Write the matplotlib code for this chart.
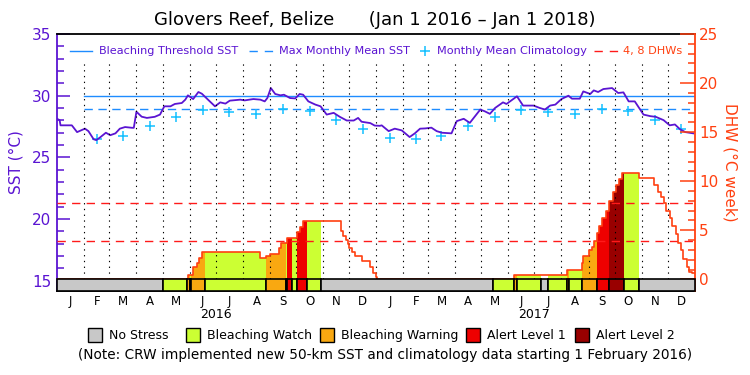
"""
Coral Reef Watch style SST / DHW chart for Glovers Reef, Belize (2016-2017).
"""

import datetime as dt

import numpy as np
import matplotlib
matplotlib.use("Agg")
import matplotlib.pyplot as plt
from matplotlib.lines import Line2D
from matplotlib.patches import Rectangle
import matplotlib.transforms as mtransforms

plt.rcParams["font.family"] = ["Liberation Sans Narrow", "DejaVu Sans"]

# ---- data (x values are days since Jan 1 2016) ----
sst_day = [0, 3, 4, 17, 23, 32, 36, 42, 45, 49, 56, 61, 67, 72, 78, 86, 88,
           91, 97, 103, 112, 118, 123, 130, 135, 143, 147, 150, 156, 162,
           166, 173, 181, 187, 193, 198, 210, 215, 225, 233, 238, 241, 245,
           250, 256, 260, 267, 273, 278, 282, 288, 296, 302, 309, 317, 324,
           332, 340, 345, 349, 359, 364, 370, 372, 380, 387, 395, 404, 410,
           416, 422, 429, 435, 441, 452, 458, 466, 473, 485, 490, 496, 502,
           511, 515, 527, 534, 546, 553, 559, 565, 571, 578, 586, 590, 599,
           603, 611, 615, 620, 626, 636, 643, 649, 655, 662, 672, 680, 686,
           695, 702, 708, 714, 720, 729]
sst = [28.13, 28.02, 27.6, 27.6, 27.05, 27.33, 27.13, 26.47, 26.4, 26.6,
       27.0, 26.8, 26.95, 27.33, 27.46, 27.4, 27.4, 28.7, 28.3, 28.2, 28.29,
       28.47, 29.14, 29.14, 29.33, 29.41, 29.68, 30.03, 29.73, 30.3, 30.16,
       29.68, 29.14, 29.46, 29.36, 29.6, 29.68, 29.62, 29.73, 29.68, 29.54,
       29.81, 30.62, 30.14, 30.03, 30.08, 29.81, 29.78, 30.14, 30.08, 29.54,
       29.28, 29.14, 28.47, 28.61, 28.29, 27.99, 27.99, 28.2, 27.89, 27.78,
       27.58, 27.56, 27.6, 27.13, 27.33, 27.19, 26.65, 26.95, 27.33, 27.35,
       27.41, 27.13, 27.0, 26.95, 27.94, 28.13, 27.8, 28.88, 28.74, 28.53,
       29.01, 29.46, 29.33, 29.95, 29.2, 29.2, 29.01, 28.88, 29.2, 29.28,
       29.73, 30.0, 29.76, 29.76, 30.35, 30.14, 30.43, 30.3, 30.54, 30.62,
       30.22, 30.27, 29.54, 29.54, 28.47, 28.34, 28.29, 28.02, 27.6, 27.67,
       27.27, 27.05, 26.95]

mmm = 28.95            # max monthly mean
threshold = 29.95      # bleaching threshold
clim = [26.55, 26.5, 26.7, 27.54, 28.27, 28.85, 28.69, 28.55, 28.93, 28.78,
        28.05, 27.31]  # monthly mean climatology, Jan..Dec

dhw_day = [0, 150, 156, 160, 163, 166, 233, 239, 244, 254, 257, 263, 275,
           278, 282, 325, 328, 331, 333, 334, 338, 341, 349, 359, 362, 366,
           367, 524, 584, 601, 603, 610, 613, 615, 619, 621, 625, 629, 633,
           637, 641, 644, 647, 667, 684, 689, 692, 695, 698, 702, 705, 709,
           712, 715, 717, 722, 724, 727, 731]
dhw = [0, 0.41, 1.22, 1.63, 2.2, 2.75, 2.14, 2.37, 2.58, 3.16, 3.66, 4.17,
       4.85, 5.36, 5.97, 4.9, 4.4, 4.0, 3.6, 3.2, 2.8, 2.4, 1.9, 1.3, 0.6,
       0.2, 0, 0.43, 0.95, 1.63, 2.37, 2.95, 3.3, 3.87, 4.68, 5.43, 6.2,
       6.98, 8.0, 8.86, 9.6, 10.18, 10.86, 10.28, 9.6, 8.86, 8.35, 7.74,
       6.98, 6.2, 5.43, 4.61, 3.73, 2.98, 2.04, 1.28, 0.77, 0.61, 0.61]

# stress level segments: start day, level (0 none .. 4 alert 2)
stress_start = [0, 122, 149, 152, 153, 170, 240, 262, 264, 269, 275, 286,
                303, 500, 524, 527, 555, 563, 584, 587, 601, 619, 633, 650,
                667]
stress_level = [0, 1, 2, 1, 2, 1, 2, 1, 3, 1, 3, 1, 0, 1, 2, 1, 0, 1, 2, 1,
                2, 3, 4, 1, 0]
stress_names = ["No Stress", "Bleaching Watch", "Bleaching Warning",
                "Alert Level 1", "Alert Level 2"]
month_letters = list("JFMAMJJASOND")

# ---- styling ----
SST_C = "#5a14d2"
DHW_C = "#ff4010"
BLUE = "#1e8cff"
CROSS = "#14c0ff"
RED = "#ff1a1a"
STRESS_C = ["#c8c8c8", "#ccff33", "#f9a811", "#ee0000", "#990000"]

start = dt.date(2016, 1, 1)
month_start = [(dt.date(y, m, 1) - start).days
               for y in (2016, 2017) for m in range(1, 13)] + [731]
month_mid = [(a + b) / 2 for a, b in zip(month_start[:-1], month_start[1:])]
END = 731


def fpx(x, y):
    """pixel position -> figure fraction"""
    return x / 750, 1 - y / 375


def dhw_at(day):
    i = np.searchsorted(dhw_day, day, side="right") - 1
    return dhw[i]


fig = plt.figure(figsize=(7.5, 3.75), dpi=100)
ax = fig.add_axes([57 / 750, 1 - 290.7 / 375, 638 / 750, 256.7 / 375])
ax2 = ax.twinx()

ax.set_xlim(0, END)
ax.set_ylim(14.2, 35)
ax2.set_ylim(-1.16, 25)

# SST axis content
ax.plot([month_start[1], END], [threshold, threshold], color=BLUE, lw=1.0,
        zorder=2)
ax.plot([month_start[1], END], [mmm, mmm], color=BLUE, lw=1.0,
        dashes=(6, 4), zorder=2)
clim_x = month_mid[1:]
clim_y = [clim[i % 12] for i in range(1, 24)]
ax.plot(clim_x, clim_y, ls="none", marker="+", ms=7.5, mew=1.1, color=CROSS,
        zorder=3)
ax.plot(sst_day, sst, color=SST_C, lw=1.3, zorder=4)

# DHW axis content: fills coloured by stress level
seg_end = stress_start[1:] + [END]
for s, e, lev in zip(stress_start, seg_end, stress_level):
    if lev == 0:
        continue
    inside = [d for d in dhw_day if s < d < e]
    xs = [s] + inside + [e]
    ys = [dhw_at(s)] + [dhw_at(d) for d in inside] + [dhw_at(e - 1e-6)]
    ax2.fill_between(xs, 0, ys, step="post", color=STRESS_C[lev], lw=0,
                     zorder=1)

ax2.plot(dhw_day, dhw, drawstyle="steps-post", color=DHW_C, lw=1.2,
         zorder=3)

# dotted month separators stop just under the legend row
ax2.vlines(month_start[1:-1], 0, 22.3, color="black", lw=0.8,
           linestyles=[(0, (1.2, 4))], zorder=2)
for lvl in (4, 8):
    ax2.axhline(lvl * 0.975, color=RED, lw=1.0, dashes=(6, 4.5), zorder=2)

# stress bar along the bottom
for s, e, lev in zip(stress_start, seg_end, stress_level):
    ax2.add_patch(Rectangle((s, -1.16), e - s, 1.16, facecolor=STRESS_C[lev],
                            edgecolor="black", lw=1.2, zorder=5,
                            clip_on=False))

# ---- axes styling ----
ax.spines["right"].set_visible(False)
for sp in ("left", "top", "bottom"):
    ax2.spines[sp].set_visible(False)
ax.spines["left"].set_color(SST_C)
ax.spines["left"].set_linewidth(1.3)
ax.spines["top"].set_linewidth(1.3)
ax.spines["bottom"].set_linewidth(1.3)
ax2.spines["right"].set_color(DHW_C)
ax2.spines["right"].set_linewidth(1.3)

ax.set_yticks([15, 20, 25, 30, 35])
ax.set_yticks(range(15, 36), minor=True)
ax.tick_params(axis="y", which="major", direction="in", length=9.5,
               width=1.1, color=SST_C, labelcolor=SST_C, labelsize=11, pad=4)
ax.tick_params(axis="y", which="minor", direction="in", length=5,
               width=1.1, color=SST_C)
ax2.set_yticks([0, 5, 10, 15, 20, 25])
ax2.set_yticks(range(0, 26), minor=True)
ax2.tick_params(axis="y", which="major", direction="in", length=10.5,
                width=1.1, color=DHW_C, labelcolor=DHW_C, labelsize=11,
                pad=3)
ax2.tick_params(axis="y", which="minor", direction="in", length=5,
                width=1.1, color=DHW_C)

ax.set_xticks(month_mid)
ax.set_xticklabels(month_letters * 2)
ax.tick_params(axis="x", length=0, labelsize=8.5, pad=3)

ax.set_ylabel("SST (°C)", color=SST_C, fontsize=11, labelpad=6)
ax2.set_ylabel("DHW (°C week)", color=DHW_C, fontsize=11, rotation=-90,
               labelpad=14)

trans = mtransforms.blended_transform_factory(ax.transData, fig.transFigure)
for yr, mid in (("2016", 182), ("2017", 547)):
    ax.text(mid, 1 - 315 / 375, yr, transform=trans, ha="center",
            va="center", fontsize=9)

fig.text(*fpx(375, 20), "Glovers Reef, Belize      (Jan 1 2016 \u2013 Jan 1 2018)",
         ha="center", va="center", fontsize=13)

# legend row inside the plot
ly = 51
LFS = 8.1
fig.add_artist(Line2D([fpx(70, 0)[0], fpx(92, 0)[0]], [fpx(0, ly)[1]] * 2,
                      color=BLUE, lw=1.0, transform=fig.transFigure))
fig.text(*fpx(99, ly), "Bleaching Threshold SST", color=SST_C, fontsize=LFS,
         va="center")
fig.add_artist(Line2D([fpx(249, 0)[0], fpx(273, 0)[0]], [fpx(0, ly)[1]] * 2,
                      color=BLUE, lw=1.0, dashes=(6, 5),
                      transform=fig.transFigure))
fig.text(*fpx(279, ly), "Max Monthly Mean SST", color=SST_C, fontsize=LFS,
         va="center")
fig.add_artist(Line2D([fpx(425, 0)[0]], [fpx(0, ly)[1]], ls="none",
                      marker="+", ms=7.5, mew=1.1, color=CROSS,
                      transform=fig.transFigure))
fig.text(*fpx(437, ly), "Monthly Mean Climatology", color=SST_C,
         fontsize=LFS, va="center")
fig.add_artist(Line2D([fpx(594, 0)[0], fpx(618, 0)[0]], [fpx(0, ly)[1]] * 2,
                      color=RED, lw=1.0, dashes=(6, 5),
                      transform=fig.transFigure))
fig.text(*fpx(623, ly), "4, 8 DHWs", color=DHW_C, fontsize=LFS,
         va="center")

# stress legend below
box_x = [88, 186, 320, 466, 575]
for name, col, bx in zip(stress_names, STRESS_C, box_x):
    x0, y0 = fpx(bx, 342)
    fig.add_artist(Rectangle((x0, y0), 14 / 750, 14 / 375, facecolor=col,
                             edgecolor="black", lw=1.0,
                             transform=fig.transFigure))
    fig.text(*fpx(bx + 21, 335.5), name, fontsize=9, va="center")

fig.text(*fpx(385, 355), "(Note: CRW implemented new 50-km SST and "
         "climatology data starting 1 February 2016)", ha="center",
         va="center", fontsize=9.8)

fig.savefig("out.png", dpi=100)
